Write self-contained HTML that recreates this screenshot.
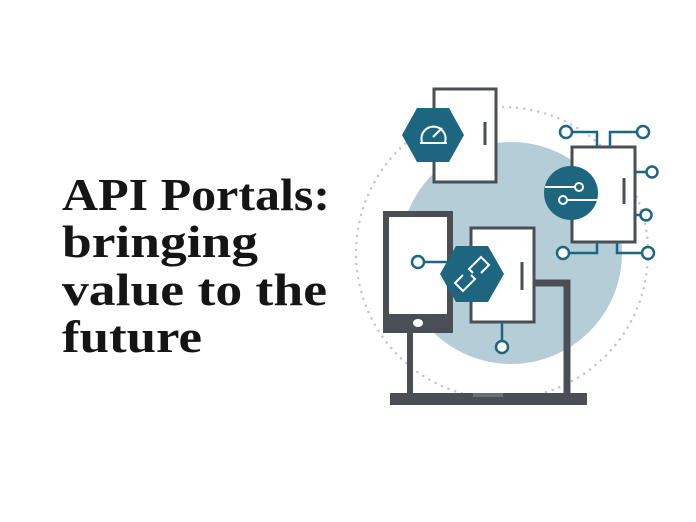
<!DOCTYPE html>
<html><head><meta charset="utf-8"><style>
html,body{margin:0;padding:0;background:#fff;width:696px;height:522px;overflow:hidden}
</style></head><body>
<svg width="696" height="522" viewBox="0 0 696 522" xmlns="http://www.w3.org/2000/svg">
<rect width="696" height="522" fill="#fff"/>
<g font-family="Liberation Serif, serif" font-weight="bold" font-size="46" fill="#151515">
<text x="62" y="210" textLength="268" lengthAdjust="spacingAndGlyphs">API Portals:</text>
<text x="62" y="257" textLength="196" lengthAdjust="spacingAndGlyphs">bringing</text>
<text x="62" y="305" textLength="265" lengthAdjust="spacingAndGlyphs">value to the</text>
<text x="62" y="352" textLength="140" lengthAdjust="spacingAndGlyphs">future</text>
</g>
<!-- dotted circle -->
<circle cx="502" cy="253" r="146" fill="none" stroke="#c4c8cb" stroke-width="2.5" stroke-dasharray="0.1 7" stroke-linecap="round"/>
<!-- light circle -->
<circle cx="511" cy="253" r="111" fill="#b4cdd6"/>
<g stroke="#4a4f55" fill="#fff">
<!-- top phone -->
<rect x="434" y="89" width="62" height="93" stroke-width="3"/>
<line x1="485" y1="122" x2="485" y2="145" stroke-width="3"/>
<!-- right chip -->
<rect x="572" y="147" width="63" height="95" stroke-width="3"/>
<line x1="624" y1="178" x2="624" y2="204" stroke-width="3"/>
<!-- middle phone -->
<rect x="471" y="228" width="63" height="94" stroke-width="3"/>
<line x1="522" y1="262" x2="522" y2="290" stroke-width="3"/>
<!-- laptop -->
<polyline points="535,283 567,283 567,396" fill="none" stroke-width="7"/>
<line x1="410" y1="332" x2="410" y2="396" stroke-width="6"/>
<!-- tablet -->
<rect x="386" y="214" width="64" height="116" stroke-width="6"/>
</g>
<rect x="383" y="314" width="70" height="19" fill="#4a4f55"/>
<ellipse cx="418" cy="323" rx="5" ry="4" fill="#fff"/>
<rect x="390" y="393" width="197" height="12" fill="#4a4f55"/>
<rect x="473" y="393" width="30" height="4" fill="#6a6f75"/>
<!-- teal connectors -->
<g stroke="#1e6680" stroke-width="2.5" fill="#fff">
<polyline points="572,132 597,132 597,147" fill="none"/>
<polyline points="637,132 610,132 610,147" fill="none"/>
<line x1="635" y1="172" x2="647" y2="172"/>
<line x1="635" y1="215" x2="641" y2="215"/>
<polyline points="569,253 597,253 597,242" fill="none"/>
<polyline points="642,253 617,253 617,242" fill="none"/>
<circle cx="566" cy="132" r="6"/>
<circle cx="643" cy="132" r="6"/>
<circle cx="652" cy="172" r="5.5"/>
<circle cx="646" cy="215" r="5.5"/>
<circle cx="563" cy="253" r="6"/>
<circle cx="648" cy="253" r="6"/>
<line x1="424" y1="262" x2="450" y2="262"/>
<circle cx="418" cy="262" r="6"/>
<line x1="502" y1="322" x2="502" y2="341"/>
<circle cx="502" cy="347" r="6"/>
</g>
<!-- hexagons -->
<polygon points="402,135 417,108 449,108 464,135 449,162 417,162" fill="#1e6680"/>
<g stroke="#fff" stroke-width="2" fill="none">
<path d="M422,142 A12,12 0 1 1 445,142"/>
<line x1="420" y1="143" x2="447" y2="143"/>
<line x1="433" y1="137" x2="442" y2="128"/>
</g>
<polygon points="440,274 456,246 488,246 504,274 488,302 456,302" fill="#1e6680"/>
<g stroke="#fff" stroke-width="2" fill="none">
<path d="M463,275 l-8,8 l8,8 l12,-12 l-4,-4"/>
<path d="M481,273 l8,-8 l-8,-8 l-12,12 l4,4"/>
</g>
<circle cx="571" cy="193" r="27" fill="#1e6680"/>
<g stroke="#fff" stroke-width="2" fill="none">
<line x1="545" y1="187" x2="575" y2="187"/>
<circle cx="579" cy="187" r="4"/>
<line x1="567" y1="200" x2="597" y2="200"/>
<circle cx="563" cy="200" r="4"/>
</g>
</svg>
</body></html>
